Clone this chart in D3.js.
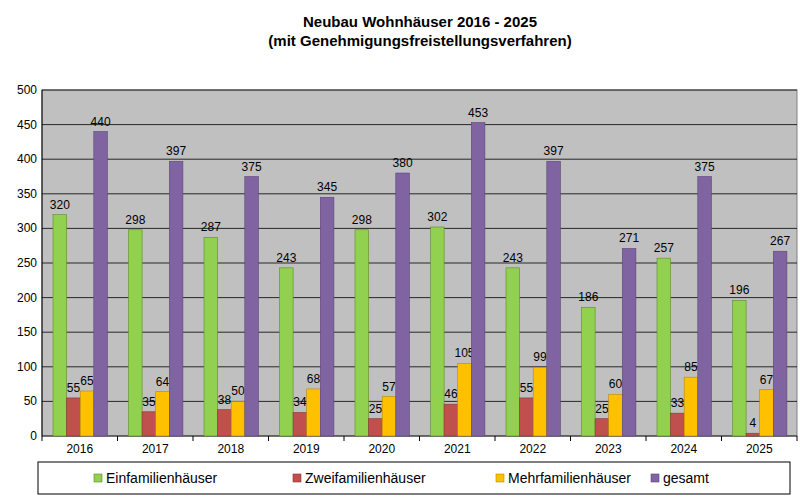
<!DOCTYPE html>
<html><head><meta charset="utf-8">
<script src="https://cdn.jsdelivr.net/npm/d3@7"></script>
<style>body{margin:0;background:#fff}text{font-family:"Liberation Sans",Arial,sans-serif}</style>
</head><body><svg id="c" width="800" height="501"></svg>
<script>
const years=["2016","2017","2018","2019","2020","2021","2022","2023","2024","2025"];
const seriesNames=["Einfamilienhäuser","Zweifamilienhäuser","Mehrfamilienhäuser","gesamt"];
const einfamilien=[320,298,287,243,298,302,243,186,257,196];
const zweifamilien=[55,35,38,34,25,46,55,25,33,4];
const mehrfamilien=[65,64,50,68,57,105,99,60,85,67];
const gesamt=[440,397,375,345,380,453,397,271,375,267];
const yTicks=[0,50,100,150,200,250,300,350,400,450,500];
const colors=["#92d050","#c0504d","#ffc000","#8064a2"];
const strokes=["#5f8a2a","#8a3432","#b88a00","#5a4578"];
const series=[einfamilien,zweifamilien,mehrfamilien,gesamt];
const svg=d3.select("#c");
const L=42,R=797,T=90,B=436;
const x=d3.scaleBand().domain(years).range([L,R]);
const y=d3.scaleLinear().domain([0,500]).range([B,T]);
svg.append("rect").attr("x",L).attr("y",T).attr("width",R-L).attr("height",B-T).attr("fill","#c0c0c0").attr("stroke","#808080");
svg.append("g").selectAll("line").data(yTicks).join("line").attr("x1",L).attr("x2",R).attr("y1",d=>y(d)).attr("y2",d=>y(d)).attr("stroke","#000").attr("stroke-width",0.8);
svg.append("g").selectAll("text").data(yTicks).join("text").attr("x",L-5).attr("y",d=>y(d)+4).attr("text-anchor","end").attr("font-size",12).text(d=>d);
svg.append("g").selectAll("line").data(years.concat(["end"])).join("line").attr("x1",(d,i)=>L+i*x.bandwidth()).attr("x2",(d,i)=>L+i*x.bandwidth()).attr("y1",B).attr("y2",B+5).attr("stroke","#000");
svg.append("line").attr("x1",L).attr("x2",L).attr("y1",T).attr("y2",B).attr("stroke","#000");
svg.append("g").selectAll("text").data(years).join("text").attr("x",d=>x(d)+x.bandwidth()/2).attr("y",B+17).attr("text-anchor","middle").attr("font-size",12).text(d=>d);
const bw=13.6, off=11;
series.forEach((s,si)=>{
  const g=svg.append("g");
  g.selectAll("rect").data(s).join("rect").attr("x",(d,i)=>x(years[i])+off+si*bw).attr("y",d=>y(d)).attr("width",bw).attr("height",d=>B-y(d)).attr("fill",colors[si]).attr("stroke",strokes[si]).attr("stroke-width",0.6);
  g.selectAll("text").data(s).join("text").attr("x",(d,i)=>x(years[i])+off+si*bw+bw/2).attr("y",d=>y(d)-6).attr("text-anchor","middle").attr("font-size",12).text(d=>d);
});
svg.append("text").attr("x",420).attr("y",27).attr("text-anchor","middle").attr("font-size",15).attr("font-weight","bold").text("Neubau Wohnhäuser 2016 - 2025");
svg.append("text").attr("x",420).attr("y",46).attr("text-anchor","middle").attr("font-size",15).attr("font-weight","bold").text("(mit Genehmigungsfreistellungsverfahren)");
svg.append("rect").attr("x",38).attr("y",462).attr("width",752).attr("height",32).attr("fill","#fff").attr("stroke","#000");
const lx=[94,293,496,651];
seriesNames.forEach((n,i)=>{
  svg.append("rect").attr("x",lx[i]).attr("y",474).attr("width",8).attr("height",8).attr("fill",colors[i]).attr("stroke",strokes[i]).attr("stroke-width",0.6);
  svg.append("text").attr("x",lx[i]+12).attr("y",483).attr("font-size",14).text(n);
});
</script></body></html>
